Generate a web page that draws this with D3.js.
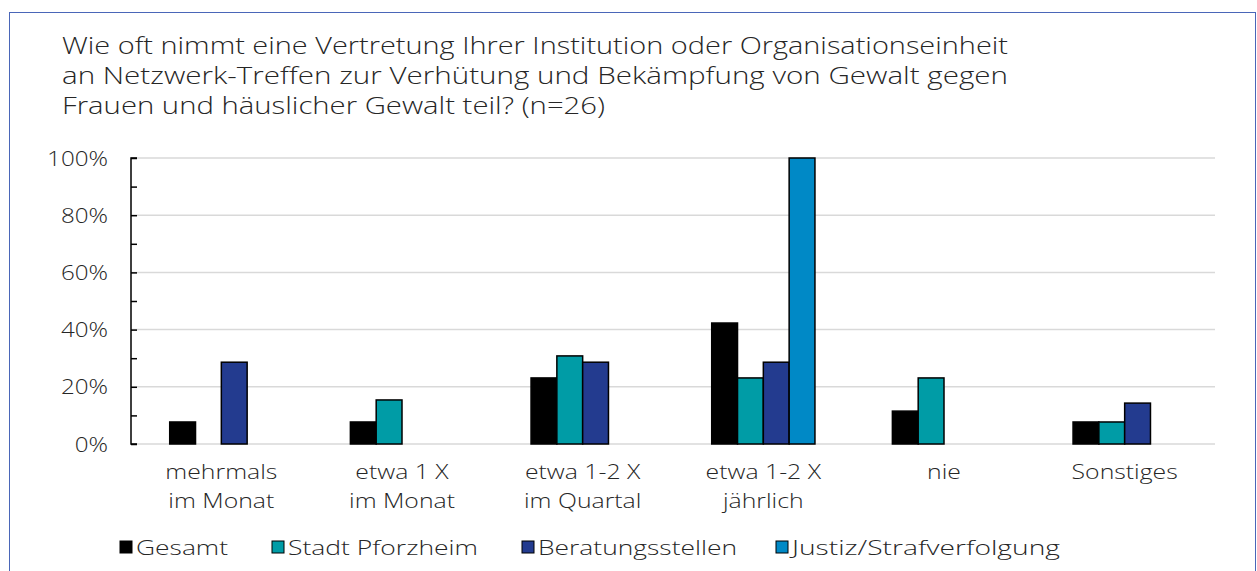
<!DOCTYPE html>
<html><head><meta charset="utf-8">
<script src="https://cdn.jsdelivr.net/npm/d3@7"></script>
<style>
html,body{margin:0;padding:0;background:#fff;}
text{font-family:"Open Sans","Noto Sans",sans-serif;font-weight:300;fill:#262626;}
</style></head>
<body>
<svg id="chart" width="1257" height="571"></svg>
<script>
const titleLines = [
  "Wie oft nimmt eine Vertretung Ihrer Institution oder Organisationseinheit",
  "an Netzwerk-Treffen zur Verhütung und Bekämpfung von Gewalt gegen",
  "Frauen und häuslicher Gewalt teil? (n=26)"
];
const categories = [
  ["mehrmals","im Monat"],
  ["etwa 1 X","im Monat"],
  ["etwa 1-2 X","im Quartal"],
  ["etwa 1-2 X","jährlich"],
  ["nie"],
  ["Sonstiges"]
];
const seriesNames = ["Gesamt","Stadt Pforzheim","Beratungsstellen","Justiz/Strafverfolgung"];
const seriesColors = ["#000000","#009ca6","#233b8f","#0089c6"];
const gesamt = [7.7, 7.7, 23.1, 42.3, 11.5, 7.7];
const stadtPforzheim = [0, 15.4, 30.8, 23.1, 23.1, 7.7];
const beratungsstellen = [28.6, 0, 28.6, 28.6, 0, 14.3];
const justiz = [0, 0, 0, 100, 0, 0];
const yTicks = [0, 20, 40, 60, 80, 100];
const yMinorTicks = [0,10,20,30,40,50,60,70,80,90,100];

const seriesValues = [gesamt, stadtPforzheim, beratungsstellen, justiz];

const svg = d3.select("#chart");
const pLeft = 131, pRight = 1215, pTop = 158, pBottom = 444;

function stretch(sel, k){
  sel.each(function(){
    const w = this.getComputedTextLength();
    d3.select(this).attr("textLength", w*k).attr("lengthAdjust","spacingAndGlyphs");
  });
}

// outer border
svg.append("rect").attr("x",9.5).attr("y",12.5).attr("width",1246).attr("height",600)
  .attr("fill","none").attr("stroke","#4a66b8").attr("stroke-width",1);

// title
const titleWidths = [946, 946, 543];
titleLines.forEach((t,i)=>{
  svg.append("text").attr("x",62).attr("y",54+i*30).attr("font-size",23)
    .attr("textLength",titleWidths[i]).attr("lengthAdjust","spacingAndGlyphs").text(t);
});

const catIdx = categories.map((c,i)=>i);
const x0 = d3.scaleBand().domain(catIdx).range([pLeft,pRight]).paddingInner(0).paddingOuter(0);
const groupW = x0.bandwidth()*4/7;
const x1 = d3.scaleBand().domain(d3.range(4)).range([0,groupW]).padding(0);
const y = d3.scaleLinear().domain([0,100]).range([pBottom,pTop]);

// gridlines
svg.append("g").selectAll("line").data(yTicks).join("line")
  .attr("x1",pLeft).attr("x2",pRight).attr("y1",d=>y(d)).attr("y2",d=>y(d))
  .attr("stroke","#d9d9d9").attr("stroke-width",1.5);

// bars
const g = svg.append("g");
seriesValues.forEach((vals,s)=>{
  g.selectAll(null).data(vals.map((v,i)=>({v,i})).filter(d=>d.v>0)).join("rect")
    .attr("x",d=>x0(d.i)+(x0.bandwidth()-groupW)/2+x1(s))
    .attr("y",d=>y(d.v))
    .attr("width",x1.bandwidth())
    .attr("height",d=>y(0)-y(d.v))
    .attr("fill",seriesColors[s]).attr("stroke","#000").attr("stroke-width",1.5);
});

// y axis
const yAxis = d3.axisRight(y).tickValues(yMinorTicks).tickSize(6).tickFormat("");
const ya = svg.append("g").attr("transform",`translate(${pLeft},0)`).call(yAxis);
ya.select(".domain").attr("stroke","#000").attr("stroke-width",1.5).attr("d",`M6,${pTop}H0V${pBottom}H6`);
ya.selectAll(".tick line").attr("stroke","#000").attr("stroke-width",1.5);

const yl = svg.append("g").selectAll("text").data(yTicks).join("text")
  .attr("x",108).attr("y",d=>y(d)+7.5).attr("text-anchor","end").attr("font-size",21)
  .text(d=>d+"%");
stretch(yl, 1.15);

// x labels
categories.forEach((lines,i)=>{
  const cx = x0(i)+x0.bandwidth()/2;
  lines.forEach((l,j)=>{
    const t = svg.append("text").attr("x",cx).attr("y",479+j*29).attr("text-anchor","middle")
      .attr("font-size",21).text(l);
    stretch(t, 1.18);
  });
});

// legend
const legX = [120, 272, 522, 776];
const legW = [92, 190, 199, 268];
seriesNames.forEach((n,i)=>{
  svg.append("rect").attr("x",legX[i]).attr("y",541).attr("width",12).attr("height",12)
    .attr("fill",seriesColors[i]).attr("stroke","#000").attr("stroke-width",1);
  svg.append("text").attr("x",legX[i]+16).attr("y",555).attr("font-size",21)
    .attr("textLength",legW[i]).attr("lengthAdjust","spacingAndGlyphs").text(n);
});
</script>
</body></html>
